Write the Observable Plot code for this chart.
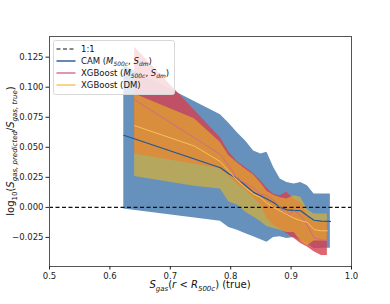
<!DOCTYPE html>
<html><head><meta charset="utf-8">
<script src="https://cdn.jsdelivr.net/npm/d3@7"></script>
<script src="https://cdn.jsdelivr.net/npm/@observablehq/plot@0.6"></script>
<style>body{margin:0;background:#fff;} #chart{width:390px;height:304px;}</style>
</head><body><div id="chart"></div>
<script>
// CAM (M500c, Sdm)
const camX   = [0.623, 0.783, 0.797, 0.811, 0.825, 0.838, 0.85, 0.86, 0.871, 0.882, 0.893, 0.905, 0.916, 0.927, 0.938, 0.95, 0.965];
const camMed = [0.060, 0.033, 0.028, 0.024, 0.018, 0.0125, 0.0095, 0.007, 0.004, 0.000, -0.002, -0.0025, -0.0028, -0.007, -0.0107, -0.0115, -0.0117];
const camHi  = [0.118, 0.077, 0.070, 0.062, 0.055, 0.047, 0.0445, 0.0458, 0.0333, 0.0236, 0.0208, 0.0195, 0.0208, 0.018, 0.0112, 0.0112, 0.0112];
const camLo  = [-0.0013, -0.0115, -0.0167, -0.019, -0.022, -0.0245, -0.027, -0.029, -0.025, -0.0245, -0.026, -0.025, -0.0278, -0.030, -0.0345, -0.034, -0.034];
// XGBoost (M500c, Sdm) and XGBoost (DM)
const xgbX   = [0.641, 0.74, 0.783, 0.797, 0.811, 0.825, 0.838, 0.85, 0.86, 0.871, 0.882, 0.893, 0.905, 0.916, 0.927, 0.938, 0.95, 0.96];
const sdmMed = [0.0895, 0.0578, 0.044, 0.0345, 0.0235, 0.020, 0.016, 0.011, 0.0097, 0.006, 0.000, -0.0069, -0.0028, -0.0069, -0.015, -0.0255, -0.027, -0.0275];
const sdmHi  = [0.1333, 0.0808, 0.058, 0.046, 0.038, 0.033, 0.028, 0.022, 0.016, 0.011, 0.0097, 0.0125, 0.0065, 0.004, -0.006, -0.012, -0.012, -0.012];
const sdmLo  = [0.0445, 0.0358, 0.032, 0.026, 0.0195, 0.014, 0.008, 0.002, -0.009, -0.015, -0.018, -0.022, -0.026, -0.030, -0.033, -0.037, -0.040, -0.040];
const dmMed  = [0.068, 0.051, 0.038, 0.030, 0.0225, 0.016, 0.011, 0.008, 0.0035, 0.000, -0.003, -0.006, -0.009, -0.011, -0.0125, -0.0185, -0.0195, -0.0195];
const dmHi   = [0.0944, 0.0737, 0.054, 0.043, 0.037, 0.0315, 0.027, 0.020, 0.0135, 0.010, 0.008, 0.007, 0.0097, 0.0085, -0.002, -0.0055, -0.0055, -0.0055];
const dmLo   = [0.0258, 0.0175, 0.0153, 0.0045, 0.002, -0.004, -0.008, -0.012, -0.016, -0.0175, -0.019, -0.021, -0.021, -0.028, -0.032, -0.028, -0.028, -0.028];
const xTicks = [0.5, 0.6, 0.7, 0.8, 0.9, 1.0];
const yTicks = [-0.025, 0.000, 0.025, 0.050, 0.075, 0.100, 0.125];
const legendLabels = ["1:1", "CAM", "XGBoost", "XGBoost (DM)"];

const rows = (xs, med, lo, hi) => xs.map((x, i) => ({x, med: med[i], lo: lo[i], hi: hi[i]}));
const camRows = rows(camX, camMed, camLo, camHi);
const sdmRows = rows(xgbX, sdmMed, sdmLo, sdmHi);
const dmRows  = rows(xgbX, dmMed, dmLo, dmHi);

const C = {camBand:"#6591bc", camLine:"#1f5599", sdmBand:"#d6404f", sdmLine:"#d36a86", dmBand:"#e9b527", dmLine:"#f5c25a"};

const svg = Plot.plot({
  width: 390, height: 304,
  marginLeft: 49, marginRight: 39, marginTop: 36, marginBottom: 38,
  style: {fontFamily: "DejaVu Sans", fontSize: "8.5px", background: "#fff", color: "#222"},
  x: {domain: [0.5, 1.0]},
  y: {domain: [-0.0492, 0.1422]},
  marks: [
    Plot.areaY(camRows, {x: "x", y1: "lo", y2: "hi", fill: C.camBand}),
    Plot.areaY(sdmRows, {x: "x", y1: "lo", y2: "hi", fill: C.sdmBand, fillOpacity: 0.8}),
    Plot.areaY(dmRows,  {x: "x", y1: "lo", y2: "hi", fill: C.dmBand, fillOpacity: 0.62}),
    Plot.ruleY([0], {stroke: "#111", strokeDasharray: "4,2.5", strokeWidth: 1.1}),
    Plot.lineY(camRows, {x: "x", y: "med", stroke: C.camLine, strokeWidth: 1.2}),
    Plot.lineY(sdmRows, {x: "x", y: "med", stroke: C.sdmLine, strokeWidth: 1}),
    Plot.lineY(dmRows,  {x: "x", y: "med", stroke: C.dmLine, strokeWidth: 1}),
    Plot.frame({stroke: "#555"}),
    Plot.axisX({ticks: xTicks, tickFormat: d3.format(".1f"), tickSize: 3.5, tickPadding: 2.5, label: null}),
    Plot.axisY({ticks: yTicks, tickFormat: d3.format(".3f"), tickSize: 3.5, tickPadding: 2.5, label: null})
  ]
});
document.getElementById("chart").appendChild(svg);

const s = d3.select(svg);
function rich(t, parts, base) {
  let prevSub = false;
  parts.forEach(([txt, it, sub]) => {
    const ts = t.append("tspan").text(txt);
    if (it) ts.attr("font-style", "italic");
    if (sub) ts.attr("font-size", base * 0.7);
    if (sub && !prevSub) ts.attr("dy", base * 0.25);
    if (!sub && prevSub) ts.attr("dy", -base * 0.25);
    prevSub = sub;
  });
}
// x label
const xl = s.append("text").attr("x", 200).attr("y", 288).attr("text-anchor", "middle")
  .attr("font-family", "DejaVu Sans").attr("font-size", 10).attr("fill", "#111");
rich(xl, [["S", true, false], ["gas", true, true], ["(", false, false], ["r", true, false], [" < ", false, false], ["R", true, false], ["500c", true, true], [") (true)", false, false]], 10);
// y label
const yl = s.append("text").attr("transform", "translate(14,151) rotate(-90)").attr("text-anchor", "middle")
  .attr("font-family", "DejaVu Sans").attr("font-size", 10).attr("fill", "#111");
rich(yl, [["log", false, false], ["10", false, true], ["(", false, false], ["S", true, false], ["gas, predicted", true, true], ["/", false, false], ["S", true, false], ["gas, true", true, true], [")", false, false]], 10);

// legend
const lg = s.append("g").attr("text-anchor", "start");
lg.append("rect").attr("x", 53.5).attr("y", 40.5).attr("width", 121).attr("height", 54).attr("rx", 2)
  .attr("fill", "#fff").attr("fill-opacity", 0.8).attr("stroke", "#d8d8d8");
const entries = [
  {color: "#111", dash: "4,2.5", parts: [[legendLabels[0], false, false]]},
  {color: C.camLine, parts: [[legendLabels[1] + " (", false, false], ["M", true, false], ["500c", true, true], [", ", false, false], ["S", true, false], ["dm", true, true], [")", false, false]]},
  {color: C.sdmLine, parts: [[legendLabels[2] + " (", false, false], ["M", true, false], ["500c", true, true], [", ", false, false], ["S", true, false], ["dm", true, true], [")", false, false]]},
  {color: C.dmLine, parts: [[legendLabels[3], false, false]]}
];
entries.forEach((e, i) => {
  const yy = 49 + i * 12;
  lg.append("line").attr("x1", 56.5).attr("x2", 75.5).attr("y1", yy).attr("y2", yy)
    .attr("stroke", e.color).attr("stroke-width", e.dash ? 1.1 : 1.4).attr("stroke-dasharray", e.dash || null);
  const t = lg.append("text").attr("x", 81).attr("y", yy + 3.2).attr("text-anchor", "start")
    .attr("font-family", "DejaVu Sans").attr("font-size", 8.5).attr("fill", "#111");
  rich(t, e.parts, 8.5);
});
</script></body></html>
